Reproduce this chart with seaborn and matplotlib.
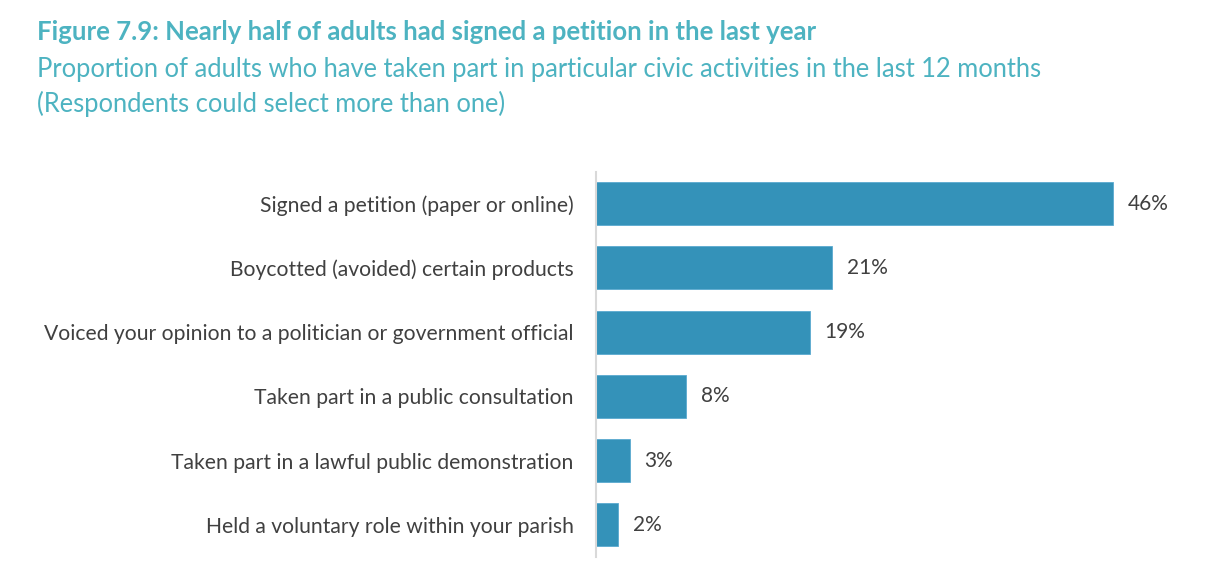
import matplotlib
matplotlib.use("Agg")
import matplotlib.pyplot as plt
import seaborn as sns
import pandas as pd

categories = [
    "Signed a petition (paper or online)",
    "Boycotted (avoided) certain products",
    "Voiced your opinion to a politician or government official",
    "Taken part in a public consultation",
    "Taken part in a lawful public demonstration",
    "Held a voluntary role within your parish",
]
values = [46, 21, 19, 8, 3, 2]
value_labels = ["46%", "21%", "19%", "8%", "3%", "2%"]

title = "Figure 7.9: Nearly half of adults had signed a petition in the last year"
subtitle1 = "Proportion of adults who have taken part in particular civic activities in the last 12 months"
subtitle2 = "(Respondents could select more than one)"

sns.set_theme(style="white")
plt.rcParams['font.family'] = ['Lato', 'DejaVu Sans']

W, H = 1232, 572
fig = plt.figure(figsize=(W / 100, H / 100), dpi=100)
ax = fig.add_axes([596 / W, (H - 557) / H, 604 / W, 385.5 / H])

df = pd.DataFrame({"cat": categories, "val": values})
sns.barplot(data=df, y="cat", x="val", orient="h", color="#3492B9",
            saturation=1, width=0.67, ax=ax, edgecolor="#5AAAD0", linewidth=0.6)

ax.set_xlim(0, 53.7)
ax.set_ylim(5.5, -0.5)
ax.set_xlabel("")
ax.set_ylabel("")
ax.set_xticks([])
for s in ["top", "right", "bottom"]:
    ax.spines[s].set_visible(False)
ax.spines["left"].set_color("#D9D9D9")
ax.spines["left"].set_linewidth(1.5)
ax.tick_params(axis="y", length=0, pad=16, labelsize=15.2, labelcolor="#404040")

for i, (v, lab) in enumerate(zip(values, value_labels)):
    ax.annotate(lab, xy=(v, i), xytext=(10.5, 0), textcoords="offset points",
                va="center", ha="left", fontsize=15, color="#404040")

teal = "#4DB3C1"
fig.text(37 / W, 1 - 32 / H, title, fontsize=18.5, fontweight="bold", color=teal,
         va="center", ha="left")
fig.text(37 / W, 1 - 70 / H, subtitle1, fontsize=18.4, color=teal, va="center", ha="left")
fig.text(37 / W, 1 - 104 / H, subtitle2, fontsize=18.4, color=teal, va="center", ha="left")

fig.savefig("out.png", dpi=100)
